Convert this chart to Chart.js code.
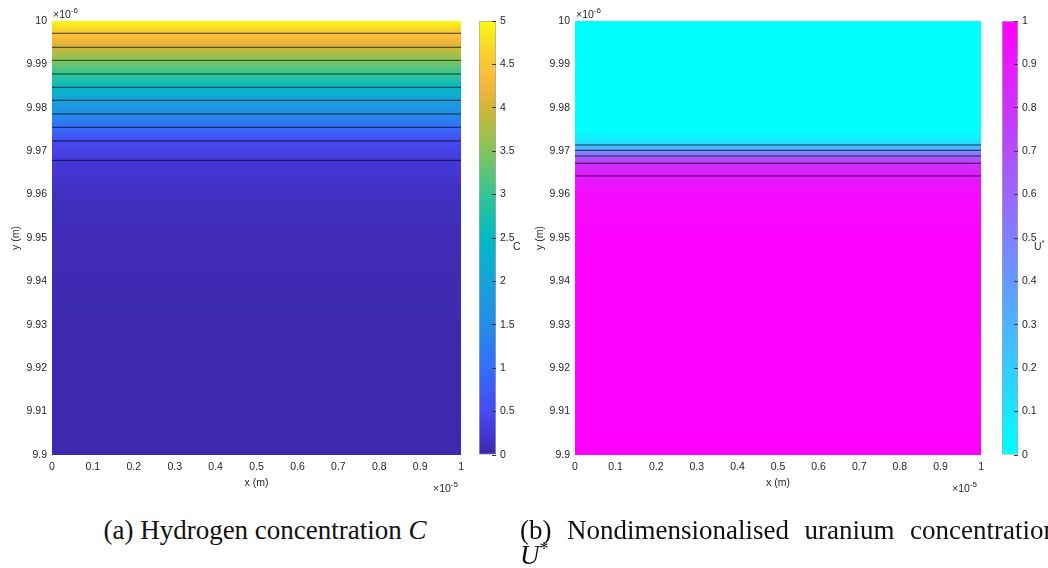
<!DOCTYPE html>
<html>
<head>
<meta charset="utf-8">
<script src="https://cdn.jsdelivr.net/npm/chart.js@4.4.0/dist/chart.umd.min.js"></script>
<style>
  html, body { margin: 0; padding: 0; overflow: hidden; background: #fff; }
  body { position: relative; width: 1048px; height: 568px; font-family: "Liberation Sans", Arial, sans-serif; }
  canvas { position: absolute; top: 0; }
  .lbl { position: absolute; font-size: 10.5px; line-height: 12px; color: #262626; white-space: nowrap; }
  .lbl sup { font-size: 8px; vertical-align: 5px; line-height: 0; }
  .cap { position: absolute; font-family: "Liberation Serif", "Times New Roman", serif; font-size: 27px; line-height: 25px; color: #111; }
  .cap sup { font-size: 18px; line-height: 0; vertical-align: 9px; }
</style>
</head>
<body>
<canvas id="hydField" width="470" height="500" style="left:0"></canvas>
<canvas id="hydBar" width="60" height="500" style="left:470px"></canvas>
<canvas id="uraField" width="470" height="500" style="left:520px"></canvas>
<canvas id="uraBar" width="58" height="500" style="left:990px"></canvas>

<div class="lbl" style="left:53px;top:8px">&times;10<sup>-6</sup></div>
<div class="lbl" style="left:576px;top:8px">&times;10<sup>-6</sup></div>
<div class="lbl" style="left:433px;top:482px">&times;10<sup>-5</sup></div>
<div class="lbl" style="left:952px;top:482px">&times;10<sup>-5</sup></div>
<div class="lbl" style="left:513px;top:240px">C</div>
<div class="lbl" style="left:1034px;top:240px">U<sup>*</sup></div>

<div class="cap" style="left:0;top:518px;width:530px;text-align:center">(a) Hydrogen concentration <i>C</i></div>
<div class="cap" style="left:520px;top:518px;width:537px;text-align:justify">(b) Nondimensionalised uranium concentration <i>U</i><sup>*</sup></div>

<script>
// axis ticks (x in 1e-5 m, y in 1e-6 m)
const xTickVals = [0, 0.1, 0.2, 0.3, 0.4, 0.5, 0.6, 0.7, 0.8, 0.9, 1];
const yTickVals = [9.9, 9.91, 9.92, 9.93, 9.94, 9.95, 9.96, 9.97, 9.98, 9.99, 10];
const cTickVals = [0, 0.5, 1, 1.5, 2, 2.5, 3, 3.5, 4, 4.5, 5];
const uTickVals = [0, 0.1, 0.2, 0.3, 0.4, 0.5, 0.6, 0.7, 0.8, 0.9, 1];
const xDomain = [0, 1];
const yDomain = [9.9, 10];

// hydrogen concentration C along y (uniform in x)
const hydY = [10, 9.99717, 9.99394, 9.99094, 9.98779, 9.98472, 9.98173, 9.97857, 9.97551, 9.97235, 9.9679, 9.96, 9.95, 9.93, 9.9];
const hydC = [5, 4.5, 4, 3.5, 3, 2.5, 2, 1.5, 1, 0.5, 0.28, 0.14, 0.08, 0.05, 0.04];
const hydContourY = [9.99717, 9.99394, 9.99094, 9.98779, 9.98472, 9.98173, 9.97857, 9.97551, 9.97235, 9.9679];

// nondimensionalised uranium concentration U* along y
const uraY = [10, 9.975, 9.9725, 9.97143, 9.97021, 9.96889, 9.96721, 9.96429, 9.96, 9.95, 9.9];
const uraU = [0, 0, 0.08, 0.2, 0.4, 0.6, 0.8, 0.9, 0.96, 0.99, 1];
const uraContourY = [9.97143, 9.97021, 9.96889, 9.96721, 9.96429];

const ink = '#262626';
const tickFont = {family: '"Liberation Sans", Arial, sans-serif', size: 10.5};

const parulaStops = [
  [0.00, 62, 38, 168], [0.05, 68, 55, 212], [0.10, 71, 74, 240], [0.20, 52, 110, 252],
  [0.30, 36, 140, 232], [0.40, 22, 163, 218], [0.50, 2, 185, 195], [0.60, 50, 196, 150],
  [0.70, 130, 196, 90], [0.80, 210, 182, 55], [0.86, 250, 183, 60], [0.93, 248, 210, 45],
  [1.00, 249, 251, 14]
];
const coolStops = [[0, 0, 255, 255], [1, 255, 0, 255]];

function fromStops(stops, t) {
  t = Math.min(1, Math.max(0, t));
  for (let i = 1; i < stops.length; i++) {
    if (t <= stops[i][0]) {
      const a = stops[i - 1], b = stops[i], f = (t - a[0]) / (b[0] - a[0]);
      return 'rgb(' + [1, 2, 3].map(k => Math.round(a[k] + (b[k] - a[k]) * f)).join(',') + ')';
    }
  }
  return 'rgb(' + stops[stops.length - 1].slice(1).join(',') + ')';
}
const parula = t => fromStops(parulaStops, t);
const cool = t => fromStops(coolStops, t);

const fmt = v => String(Math.round(v * 1000) / 1000);

// vertical shading of the field: each profile segment passed through the colormap
function fieldGradient(chart, ys, vals, vmax, cmap) {
  const y = chart.scales.y;
  const g = chart.ctx.createLinearGradient(0, y.getPixelForValue(y.min), 0, y.getPixelForValue(y.max));
  for (let i = ys.length - 1; i > 0; i--) {
    for (let k = 0; k <= 10; k++) {
      const f = k / 10;
      const yy = ys[i] + (ys[i - 1] - ys[i]) * f;
      const v = vals[i] + (vals[i - 1] - vals[i]) * f;
      g.addColorStop(Math.min(1, Math.max(0, (yy - y.min) / (y.max - y.min))), cmap(v / vmax));
    }
  }
  return g;
}

function barGradient(chart, vmax, cmap) {
  const y = chart.scales.y;
  const g = chart.ctx.createLinearGradient(0, y.getPixelForValue(0), 0, y.getPixelForValue(vmax));
  for (let k = 0; k <= 40; k++) g.addColorStop(k / 40, cmap(k / 40));
  return g;
}

function fieldChart(id, ys, vals, vmax, cmap, contourY, axisW, titlePad, padRight) {
  // filled field sits underneath (higher order is drawn first)
  const fieldSet = {
    order: 10,
    data: [{x: xDomain[0], y: yDomain[1]}, {x: xDomain[1], y: yDomain[1]}],
    showLine: true, pointRadius: 0, borderWidth: 0, borderColor: 'transparent', fill: 'start',
    backgroundColor: c => c.chart.chartArea ? fieldGradient(c.chart, ys, vals, vmax, cmap) : 'transparent'
  };
  const lineSets = contourY.map(v => ({
    order: 0,
    data: [{x: xDomain[0], y: v}, {x: xDomain[1], y: v}],
    showLine: true, pointRadius: 0, borderWidth: 1, borderColor: 'rgba(0,0,0,0.72)', fill: false
  }));
  return new Chart(document.getElementById(id), {
    type: 'scatter',
    data: {datasets: [fieldSet, ...lineSets]},
    options: {
      responsive: false, animation: false, events: [],
      layout: {padding: {top: 21, right: padRight, left: 0, bottom: 0}},
      plugins: {legend: {display: false}, tooltip: {enabled: false}},
      scales: {
        x: {
          type: 'linear', min: xDomain[0], max: xDomain[1],
          afterBuildTicks: s => { s.ticks = xTickVals.map(v => ({value: v})); },
          afterFit: s => { s.height = 45; },
          grid: {display: false, drawTicks: false}, border: {display: false},
          ticks: {color: ink, font: tickFont, padding: 6, maxRotation: 0, autoSkip: false, callback: fmt},
          title: {display: true, text: 'x (m)', color: ink, font: tickFont, padding: {top: 0, bottom: 11}}
        },
        y: {
          type: 'linear', min: yDomain[0], max: yDomain[1],
          afterBuildTicks: s => { s.ticks = yTickVals.map(v => ({value: v})); },
          afterFit: s => { s.width = axisW; },
          grid: {display: false, drawTicks: false}, border: {display: false},
          ticks: {color: ink, font: tickFont, padding: 5, autoSkip: false, callback: fmt},
          title: {display: true, text: 'y (m)', color: ink, font: tickFont, padding: {top: titlePad, bottom: 0}}
        }
      }
    }
  });
}

function colorbarChart(id, ticks, cmap, padLeft, axisW) {
  const vmax = ticks[ticks.length - 1];
  return new Chart(document.getElementById(id), {
    type: 'bar',
    data: {
      labels: [''],
      datasets: [{
        data: [[ticks[0], vmax]], barPercentage: 1, categoryPercentage: 1,
        borderWidth: 1, borderColor: '#a8a8a8', borderSkipped: false,
        backgroundColor: c => c.chart.chartArea ? barGradient(c.chart, vmax, cmap) : 'transparent'
      }]
    },
    options: {
      responsive: false, animation: false, events: [],
      layout: {padding: {top: 21, right: 0, left: padLeft, bottom: 45}},
      plugins: {legend: {display: false}, tooltip: {enabled: false}},
      scales: {
        x: {display: false},
        y: {
          position: 'right', min: ticks[0], max: vmax,
          afterBuildTicks: s => { s.ticks = ticks.map(v => ({value: v})); },
          afterFit: s => { s.width = axisW; },
          grid: {display: true, drawOnChartArea: false, drawTicks: true, tickLength: -4, color: '#3a3a3a', z: 1},
          border: {display: false},
          ticks: {color: ink, font: tickFont, padding: 8, autoSkip: false, callback: fmt}
        }
      }
    }
  });
}

fieldChart('hydField', hydY, hydC, 5, parula, hydContourY, 52, 10, 6);
colorbarChart('hydBar', cTickVals, parula, 9, 34);
fieldChart('uraField', uraY, uraU, 1, cool, uraContourY, 55, 14, 5);
colorbarChart('uraBar', uTickVals, cool, 12, 30);
</script>
</body>
</html>
